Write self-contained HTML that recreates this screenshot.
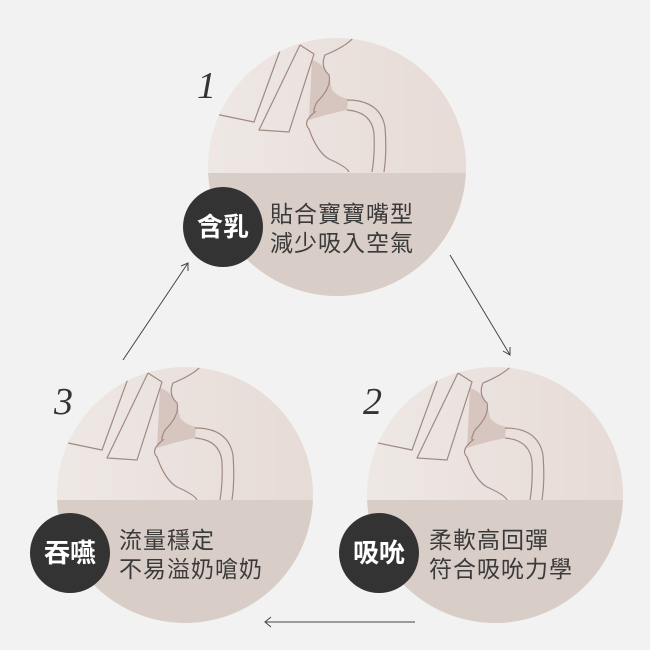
<!DOCTYPE html>
<html><head><meta charset="utf-8"><style>
body{margin:0;background:#f2f2f2;}
svg{display:block}
.t{font-family:"Liberation Sans","Noto Sans CJK TC",sans-serif;}
</style></head><body>
<svg width="650" height="650" viewBox="0 0 650 650" xmlns="http://www.w3.org/2000/svg">
<defs>
<linearGradient id="g" x1="0" x2="1" y1="0" y2="0"><stop offset="0" stop-color="#eee8e5"/><stop offset="1" stop-color="#e6dad5"/></linearGradient>
<clipPath id="c1"><circle cx="337" cy="167" r="129"/></clipPath>
<clipPath id="c3"><circle cx="185" cy="495" r="128"/></clipPath>
<clipPath id="c2"><circle cx="495" cy="495" r="128"/></clipPath>
<g id="ill">
<path d="M160,388 Q176,392 180,418 Q186,425 196,427 L195,438 Q175,442 157,448 Z" fill="#d6c6bf"/>
<g fill="none" stroke="#a08a80" stroke-width="1.2">
<path d="M40,437 L68,443 L102,450 L130,373"/>
<path d="M148,373 L162,382 L137,460 L107,458 L148,373"/>
<path d="M205,360 Q200,372 173,383 Q168,395 177,403 Q180,415 165,430 Q160,440 163,440 Q150,450 157,457 Q165,480 177,487 Q195,495 197,500"/>
<path d="M195,428 Q228,428 233,455 Q235,480 232,500"/>
<path d="M195,438 Q220,440 222,462 Q223,482 220,500"/>
</g>
</g>
</defs>
<g clip-path="url(#c1)">
<rect x="200" y="30" width="280" height="280" fill="url(#g)"/>
<use href="#ill" transform="translate(152,-328)"/>
<rect x="200" y="173" width="280" height="140" fill="#d9cdc7"/>
</g>
<g clip-path="url(#c3)">
<rect x="50" y="360" width="280" height="280" fill="url(#g)"/>
<use href="#ill"/>
<rect x="50" y="500" width="280" height="140" fill="#d9cdc7"/>
</g>
<g clip-path="url(#c2)">
<rect x="360" y="360" width="280" height="280" fill="url(#g)"/>
<use href="#ill" transform="translate(310,0)"/>
<rect x="360" y="500" width="280" height="140" fill="#d9cdc7"/>
</g>
<circle cx="223" cy="227" r="40" fill="#333"/>
<circle cx="70" cy="553" r="40" fill="#333"/>
<circle cx="379" cy="553" r="40" fill="#333"/>
<g class="t" font-size="26" fill="#fff" font-weight="bold" text-anchor="middle">
<text x="223" y="236">含乳</text>
<text x="70" y="562">吞嚥</text>
<text x="379" y="562">吸吮</text>
</g>
<g class="t" font-size="23" fill="#3a3a3a" letter-spacing="1">
<text x="270" y="222">貼合寶寶嘴型</text>
<text x="270" y="251">減少吸入空氣</text>
<text x="119" y="548">流量穩定</text>
<text x="119" y="577">不易溢奶嗆奶</text>
<text x="429" y="548">柔軟高回彈</text>
<text x="429" y="577">符合吸吮力學</text>
</g>
<g font-family="Liberation Serif,serif" font-style="italic" font-size="38" fill="#333">
<text x="197" y="98">1</text>
<text x="54" y="414">3</text>
<text x="363" y="414">2</text>
</g>
<g stroke="#444" stroke-width="1" fill="none">
<path d="M123,360 L188,263 M181,266 L188,263 L188,271"/>
<path d="M450,255 L510,355 M503,351 L510,355 L510,347"/>
<path d="M415,622 L265,622 M271,617 L265,622 L271,627"/>
</g>
</svg>
</body></html>
